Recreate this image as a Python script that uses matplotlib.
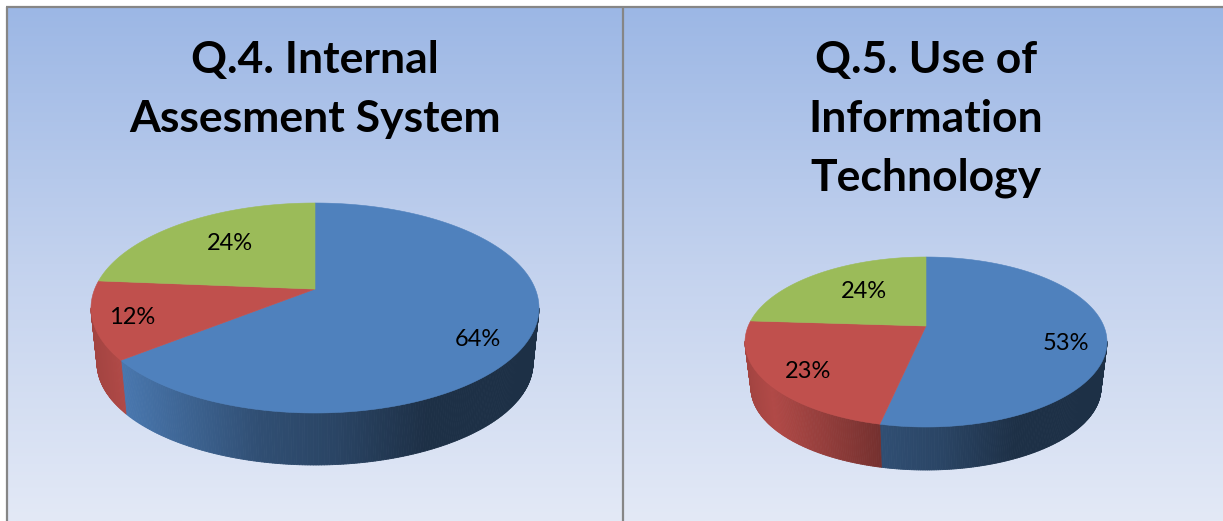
import numpy as np
import matplotlib
matplotlib.use("Agg")
import matplotlib.pyplot as plt
from matplotlib.colors import LinearSegmentedColormap, to_rgb
from matplotlib.collections import PolyCollection

# ---- data ----
categories = ["Series A", "Series B", "Series C"]
q4_shares = [64.3, 12.0, 23.7]
q5_shares = [53.4, 22.6, 24.0]
q4_title = ["Q.4. Internal", "Assesment System"]
q5_title = ["Q.5. Use of", "Information", "Technology"]
slice_colors = ["#4F81BD", "#C0504D", "#9BBB59"]

W, H = 1223, 521
plt.rcParams["font.family"] = ["Lato", "DejaVu Sans"]
fig = plt.figure(figsize=(W / 100, H / 100), dpi=100, facecolor="white")
ax = fig.add_axes([0, 0, 1, 1])
ax.set_xlim(0, W)
ax.set_ylim(H, 0)
ax.axis("off")

# background panel gradient
cmap = LinearSegmentedColormap.from_list("bg", ["#9CB7E5", "#C3D2EE", "#E3E9F6"])
grad = np.linspace(0, 1, 256).reshape(-1, 1)
ax.imshow(grad, cmap=cmap, extent=(7, W, H, 7), aspect="auto", zorder=0, interpolation="bilinear")
ax.set_xlim(0, W)
ax.set_ylim(H, 0)
for xs, ys in [([7, 7], [6.5, H]), ([623, 623], [6.5, H]), ([6, W], [6.8, 6.8])]:
    ax.plot(xs, ys, color="#868686", lw=1.6, zorder=1, solid_capstyle="butt")


def project(theta, cx, cy, rx, ry, a):
    """Clockwise angle from 12 o'clock on a tilted disc, to picture position."""
    u, v = np.sin(theta), np.cos(theta)
    d = 1 + a * v
    return cx + rx * u * np.sqrt(1 - a * a) / d, cy - ry * (v + a) / d


def shade(frac):
    return np.interp(frac, [0, .07, .37, .55, .75, 1], [.85, .92, .61, .53, .37, .37])


def draw_pie(shares, cx, cy, rx, ry, a, dy, rx_b, ry_b, labels_at):
    edges = np.cumsum([0] + list(shares)) / sum(shares) * 2 * np.pi
    for i, share in enumerate(shares):
        t = np.linspace(edges[i], edges[i + 1], max(int(share * 6), 8) + 1)
        base = np.array(to_rgb(slice_colors[i]))
        # side wall: only the part facing the viewer
        x0, y0 = project(t, cx, cy, rx, ry, a)
        x1, y1 = project(t, cx, cy + dy, rx_b, ry_b, a)
        polys, cols = [], []
        for k in range(len(t) - 1):
            if min(y0[k], y0[k + 1]) < cy - 1:
                continue
            polys.append([(x0[k], y0[k]), (x0[k + 1], y0[k + 1]), (x1[k + 1], y1[k + 1]), (x1[k], y1[k])])
            frac = ((x0[k] + x0[k + 1]) / 2 - (cx - rx)) / (2 * rx)
            cols.append(tuple(base * shade(frac)))
        ax.add_collection(PolyCollection(polys, facecolors=cols, edgecolors=cols, linewidths=.6, zorder=2))
    for i, share in enumerate(shares):
        t = np.linspace(edges[i], edges[i + 1], 300)
        x0, y0 = project(t, cx, cy, rx, ry, a)
        ax.fill(np.r_[cx, x0], np.r_[cy - ry * a, y0], color=slice_colors[i], lw=.4, zorder=3)
    for share, (lx, ly) in zip(shares, labels_at):
        ax.text(lx, ly, f"{round(share)}%", ha="center", va="center", fontsize=17, color="black", zorder=4)


draw_pie(q4_shares, 315, 308, 224, 105, .18, 55, 218, 102, [(478, 339), (132, 317), (230, 243)])
draw_pie(q5_shares, 926, 342, 181, 85, .188, 46, 175, 82, [(1066, 344), (808, 372), (864, 292)])

for lines, x in [(q4_title, 315), (q5_title, 926)]:
    for j, line in enumerate(lines):
        ax.text(x, 60 + 59 * j, line, ha="center", va="center", fontsize=32,
                fontweight="bold", color="black", zorder=4)

fig.savefig("out.png", dpi=100, facecolor="white")
